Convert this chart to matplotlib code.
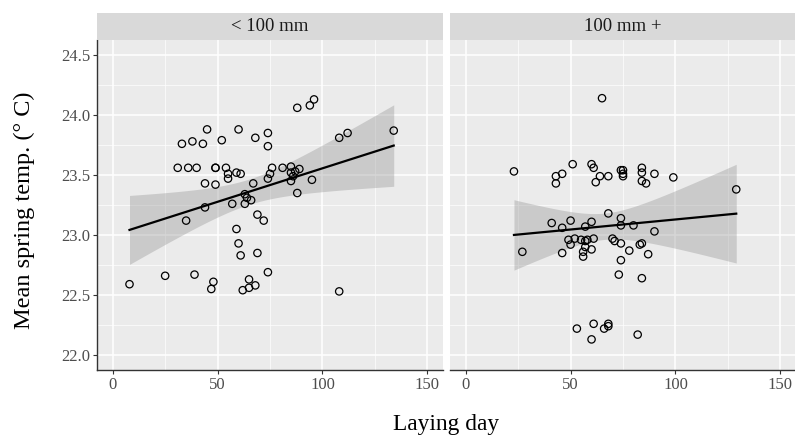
import matplotlib
matplotlib.use("Agg")
import matplotlib.pyplot as plt
import numpy as np

plt.rcParams["font.family"] = ["Liberation Serif", "DejaVu Serif"]

# ---- data: laying day vs mean spring temperature, by facet ----
panels = ["< 100 mm", "100 mm +"]

small_day = [8, 25, 39, 35, 44, 44, 49, 31, 36, 40, 49, 49, 54, 55, 55, 59, 61,
             33, 38, 43, 45, 52, 60, 68, 74, 74, 67, 63, 64, 63, 57, 66, 69, 72,
             59, 60, 61, 69, 74, 48, 47, 65, 62, 65, 68, 74, 75, 76, 81, 85, 85,
             86, 87, 85, 89, 88, 95, 88, 94, 96, 108, 112, 134, 108]
small_temp = [22.59, 22.66, 22.67, 23.12, 23.23, 23.43, 23.42, 23.56, 23.56,
              23.56, 23.56, 23.56, 23.56, 23.51, 23.47, 23.52, 23.51, 23.76,
              23.78, 23.76, 23.88, 23.79, 23.88, 23.81, 23.85, 23.74, 23.43,
              23.34, 23.31, 23.26, 23.26, 23.29, 23.17, 23.12, 23.05, 22.93,
              22.83, 22.85, 22.69, 22.61, 22.55, 22.63, 22.54, 22.56, 22.58,
              23.47, 23.51, 23.56, 23.56, 23.57, 23.52, 23.49, 23.53, 23.45,
              23.55, 23.35, 23.46, 24.06, 24.08, 24.13, 23.81, 23.85, 23.87,
              22.53]

large_day = [65, 23, 51, 60, 61, 43, 46, 43, 64, 62, 68, 74, 75, 75, 75, 84, 84,
             84, 86, 90, 99, 129, 68, 74, 74, 41, 50, 46, 57, 60, 80, 90, 27,
             46, 49, 50, 52, 55, 57, 58, 61, 56, 56, 57, 60, 70, 71, 74, 78, 83,
             84, 87, 74, 73, 84, 53, 60, 61, 66, 68, 68, 82]
large_temp = [24.14, 23.53, 23.59, 23.59, 23.56, 23.49, 23.51, 23.43, 23.49,
              23.44, 23.49, 23.54, 23.54, 23.49, 23.51, 23.56, 23.52, 23.45,
              23.43, 23.51, 23.48, 23.38, 23.18, 23.14, 23.08, 23.10, 23.12,
              23.06, 23.07, 23.11, 23.08, 23.03, 22.86, 22.85, 22.96, 22.92,
              22.97, 22.96, 22.95, 22.96, 22.97, 22.86, 22.82, 22.90, 22.88,
              22.97, 22.95, 22.93, 22.87, 22.92, 22.93, 22.84, 22.79, 22.67,
              22.64, 22.22, 22.13, 22.26, 22.22, 22.24, 22.26, 22.17]

series = [(small_day, small_temp), (large_day, large_temp)]

x_breaks = [0, 50, 100, 150]
y_breaks = [22.0, 22.5, 23.0, 23.5, 24.0, 24.5]
T_CRIT = 2.0  # ~95% t quantile for n≈60

W, H = 795, 436
fig = plt.figure(figsize=(W / 100, H / 100), dpi=100)

panel_bg = "#EBEBEB"
strip_bg = "#D9D9D9"
ax_left = [97, 450]
panel_w = 346
top, bottom = 40, 370


def fit_band(x, y, grid):
    x = np.asarray(x, float)
    y = np.asarray(y, float)
    slope, icpt = np.polyfit(x, y, 1)
    resid = y - (icpt + slope * x)
    n = len(x)
    s = np.sqrt(np.sum(resid ** 2) / (n - 2))
    sxx = np.sum((x - x.mean()) ** 2)
    fit = icpt + slope * grid
    se = s * np.sqrt(1 / n + (grid - x.mean()) ** 2 / sxx)
    return fit, fit - T_CRIT * se, fit + T_CRIT * se


for i, (label, (xd, yd)) in enumerate(zip(panels, series)):
    x0 = ax_left[i]
    ax = fig.add_axes([x0 / W, 1 - bottom / H, panel_w / W, (bottom - top) / H])
    ax.set_facecolor(panel_bg)
    ax.set_xlim(-7.5, 157.5)
    ax.set_ylim(21.875, 24.625)

    ax.set_xticks(x_breaks)
    ax.set_xticks([25, 75, 125], minor=True)
    ax.set_yticks(y_breaks)
    ax.set_yticks([22.25, 22.75, 23.25, 23.75, 24.25], minor=True)
    ax.grid(which="major", color="white", lw=1.1)
    ax.grid(which="minor", color="white", lw=0.5)
    ax.set_axisbelow(True)

    ax.tick_params(which="minor", length=0)
    ax.tick_params(which="major", length=3, width=0.8, color="#333333",
                   labelsize=12, labelcolor="#4D4D4D", pad=2)
    ax.set_yticklabels([f"{v:.1f}" for v in y_breaks])
    for side in ["top", "right"]:
        ax.spines[side].set_visible(False)
    ax.spines["bottom"].set_color("#333333")
    ax.spines["bottom"].set_linewidth(1.0)
    if i == 0:
        ax.spines["left"].set_color("#333333")
        ax.spines["left"].set_linewidth(1.0)
    else:
        ax.spines["left"].set_visible(False)
        ax.tick_params(axis="y", left=False, labelleft=False)

    grid = np.linspace(min(xd), max(xd), 100)
    fit, lo, hi = fit_band(xd, yd, grid)
    ax.fill_between(grid, lo, hi, color="#999999", alpha=0.4, lw=0, zorder=2)
    ax.plot(grid, fit, color="black", lw=1.6, zorder=3)
    ax.scatter(xd, yd, s=28, facecolors="none", edgecolors="black",
               linewidths=0.9, zorder=4)

    # facet strip
    sax = fig.add_axes([x0 / W, 1 - top / H, panel_w / W, 27 / H])
    sax.set_facecolor(strip_bg)
    sax.set_xticks([])
    sax.set_yticks([])
    for sp in sax.spines.values():
        sp.set_visible(False)
    sax.text(0.5, 0.5, label, ha="center", va="center", fontsize=13.5,
             color="#1A1A1A", transform=sax.transAxes)

fig.text(446 / W, 1 - 430 / H, "Laying day", ha="center", va="baseline",
         fontsize=16.8)
fig.text(24 / W, 1 - 210 / H, "Mean spring temp. (° C)", rotation=90,
         ha="center", va="center", fontsize=17.5)

fig.savefig("out.png", dpi=100, facecolor="white")
